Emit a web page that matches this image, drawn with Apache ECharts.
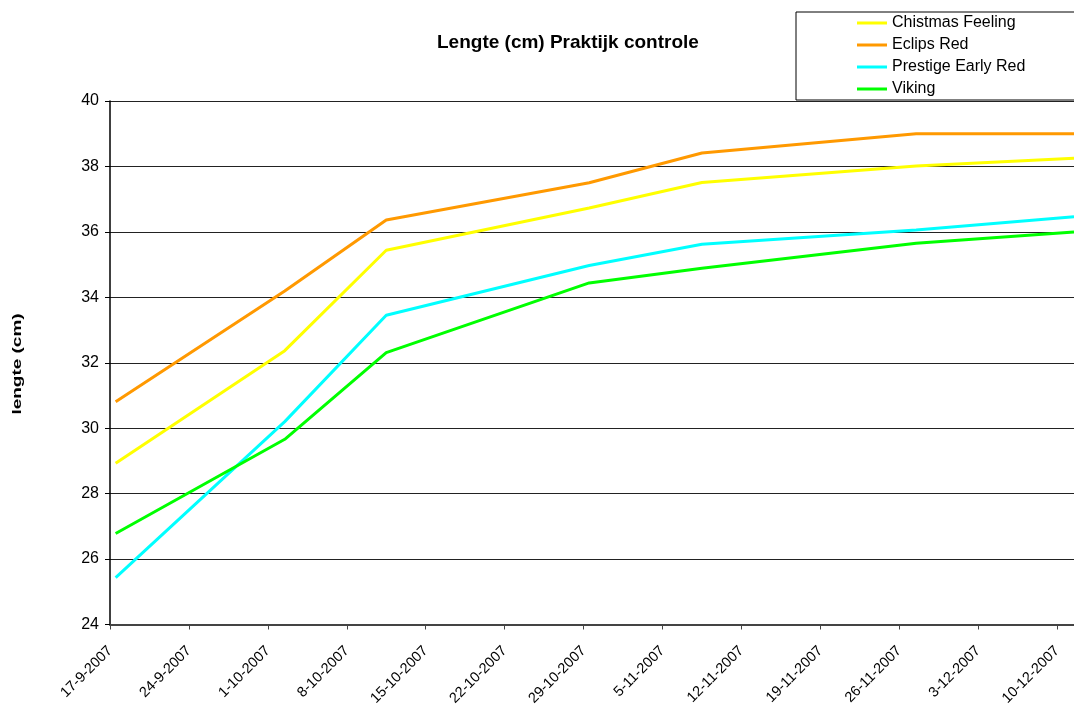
<!DOCTYPE html>
<html>
<head>
<meta charset="utf-8">
<title>Lengte (cm) Praktijk controle</title>
<script src="https://cdn.jsdelivr.net/npm/echarts@6/dist/echarts.min.js"></script>
<style>
  html, body { margin: 0; padding: 0; background: #fff; }
  #chart { width: 1074px; height: 709px; }
</style>
</head>
<body>
<div id="chart"></div>
<script>
// Measurement dates (d-m-yyyy) and plant length per variety, in cm
const dates = ['17-9-2007', '2-10-2007', '11-10-2007', '29-10-2007', '8-11-2007', '27-11-2007', '11-12-2007'];
const seriesNames = ['Chistmas Feeling', 'Eclips Red', 'Prestige Early Red', 'Viking'];
const chistmasFeeling = [28.93, 32.37, 35.44, 36.73, 37.51, 38.01, 38.25];
const eclipsRed = [30.81, 34.19, 36.36, 37.50, 38.41, 39.00, 39.00];
const prestigeEarlyRed = [25.43, 30.20, 33.45, 34.97, 35.62, 36.06, 36.46];
const viking = [26.78, 29.66, 32.31, 34.44, 34.89, 35.65, 36.00];
const seriesColors = ['#FFFF00', '#FF9900', '#00FFFF', '#00FF00'];

const DAY = 86400000;
const axisStart = '17-9-2007';
const axisEnd = '11-12-2007';

function parseDate(s) {
  const [d, m, y] = s.split('-').map(Number);
  return Date.UTC(y, m - 1, d);
}
function formatDate(v) {
  const t = new Date(v);
  return t.getUTCDate() + '-' + (t.getUTCMonth() + 1) + '-' + t.getUTCFullYear();
}

// each measurement sits in the middle of its day
const toPoints = vals => vals.map((v, i) => [parseDate(dates[i]) + DAY / 2, v]);
const allValues = [chistmasFeeling, eclipsRed, prestigeEarlyRed, viking];

const FONT = 'Liberation Sans, Arial, sans-serif';
const chart = echarts.init(document.getElementById('chart'), null, { renderer: 'canvas' });

chart.setOption({
  animation: false,
  backgroundColor: '#ffffff',
  textStyle: { fontFamily: FONT, color: '#000' },
  title: {
    text: 'Lengte (cm) Praktijk controle',
    left: 437,
    top: 33,
    padding: 0,
    textStyle: { fontFamily: FONT, fontSize: 19, fontWeight: 'bold', color: '#000' }
  },
  legend: {
    orient: 'vertical',
    left: 796,
    top: 12,
    padding: [3, 200, 3, 61],
    borderColor: '#000',
    borderWidth: 1,
    icon: 'rect',
    itemWidth: 30,
    itemHeight: 3,
    itemGap: 6,
    data: seriesNames,
    textStyle: { fontFamily: FONT, fontSize: 16, color: '#000' }
  },
  graphic: [{
    type: 'text',
    x: 18,
    y: 364,
    rotation: Math.PI / 2,
    scaleX: 1.58,
    style: {
      text: 'lengte (cm)',
      font: 'bold 12px ' + FONT,
      fill: '#000',
      textAlign: 'center',
      textVerticalAlign: 'middle'
    }
  }],
  grid: { left: 110, top: 101, right: 0, bottom: 84.5, containLabel: false },
  xAxis: {
    type: 'value',
    min: parseDate(axisStart),
    max: parseDate(axisEnd) + DAY / 2,
    interval: 7 * DAY,
    axisLine: { show: true, lineStyle: { color: '#444', width: 2 } },
    axisTick: { show: true, inside: false, length: 5, lineStyle: { color: '#444', width: 1 } },
    splitLine: { show: false },
    axisLabel: {
      rotate: 45,
      margin: 24,
      fontSize: 14.5,
      color: '#000',
      fontFamily: FONT,
      showMaxLabel: false,
      formatter: v => formatDate(v)
    }
  },
  yAxis: {
    type: 'value',
    min: 24,
    max: 40,
    interval: 2,
    axisLine: { show: true, lineStyle: { color: '#000', width: 1.5 } },
    axisTick: { show: true, inside: false, length: 5, lineStyle: { color: '#000', width: 1 } },
    splitLine: { show: true, lineStyle: { color: '#222', width: 1 } },
    axisLabel: { margin: 11, fontSize: 16, color: '#000', fontFamily: FONT }
  },
  series: seriesNames.map((name, i) => ({
    name: name,
    type: 'line',
    data: toPoints(allValues[i]),
    symbol: 'none',
    color: seriesColors[i],
    lineStyle: { color: seriesColors[i], width: 3 },
    clip: false
  }))
});
</script>
</body>
</html>
